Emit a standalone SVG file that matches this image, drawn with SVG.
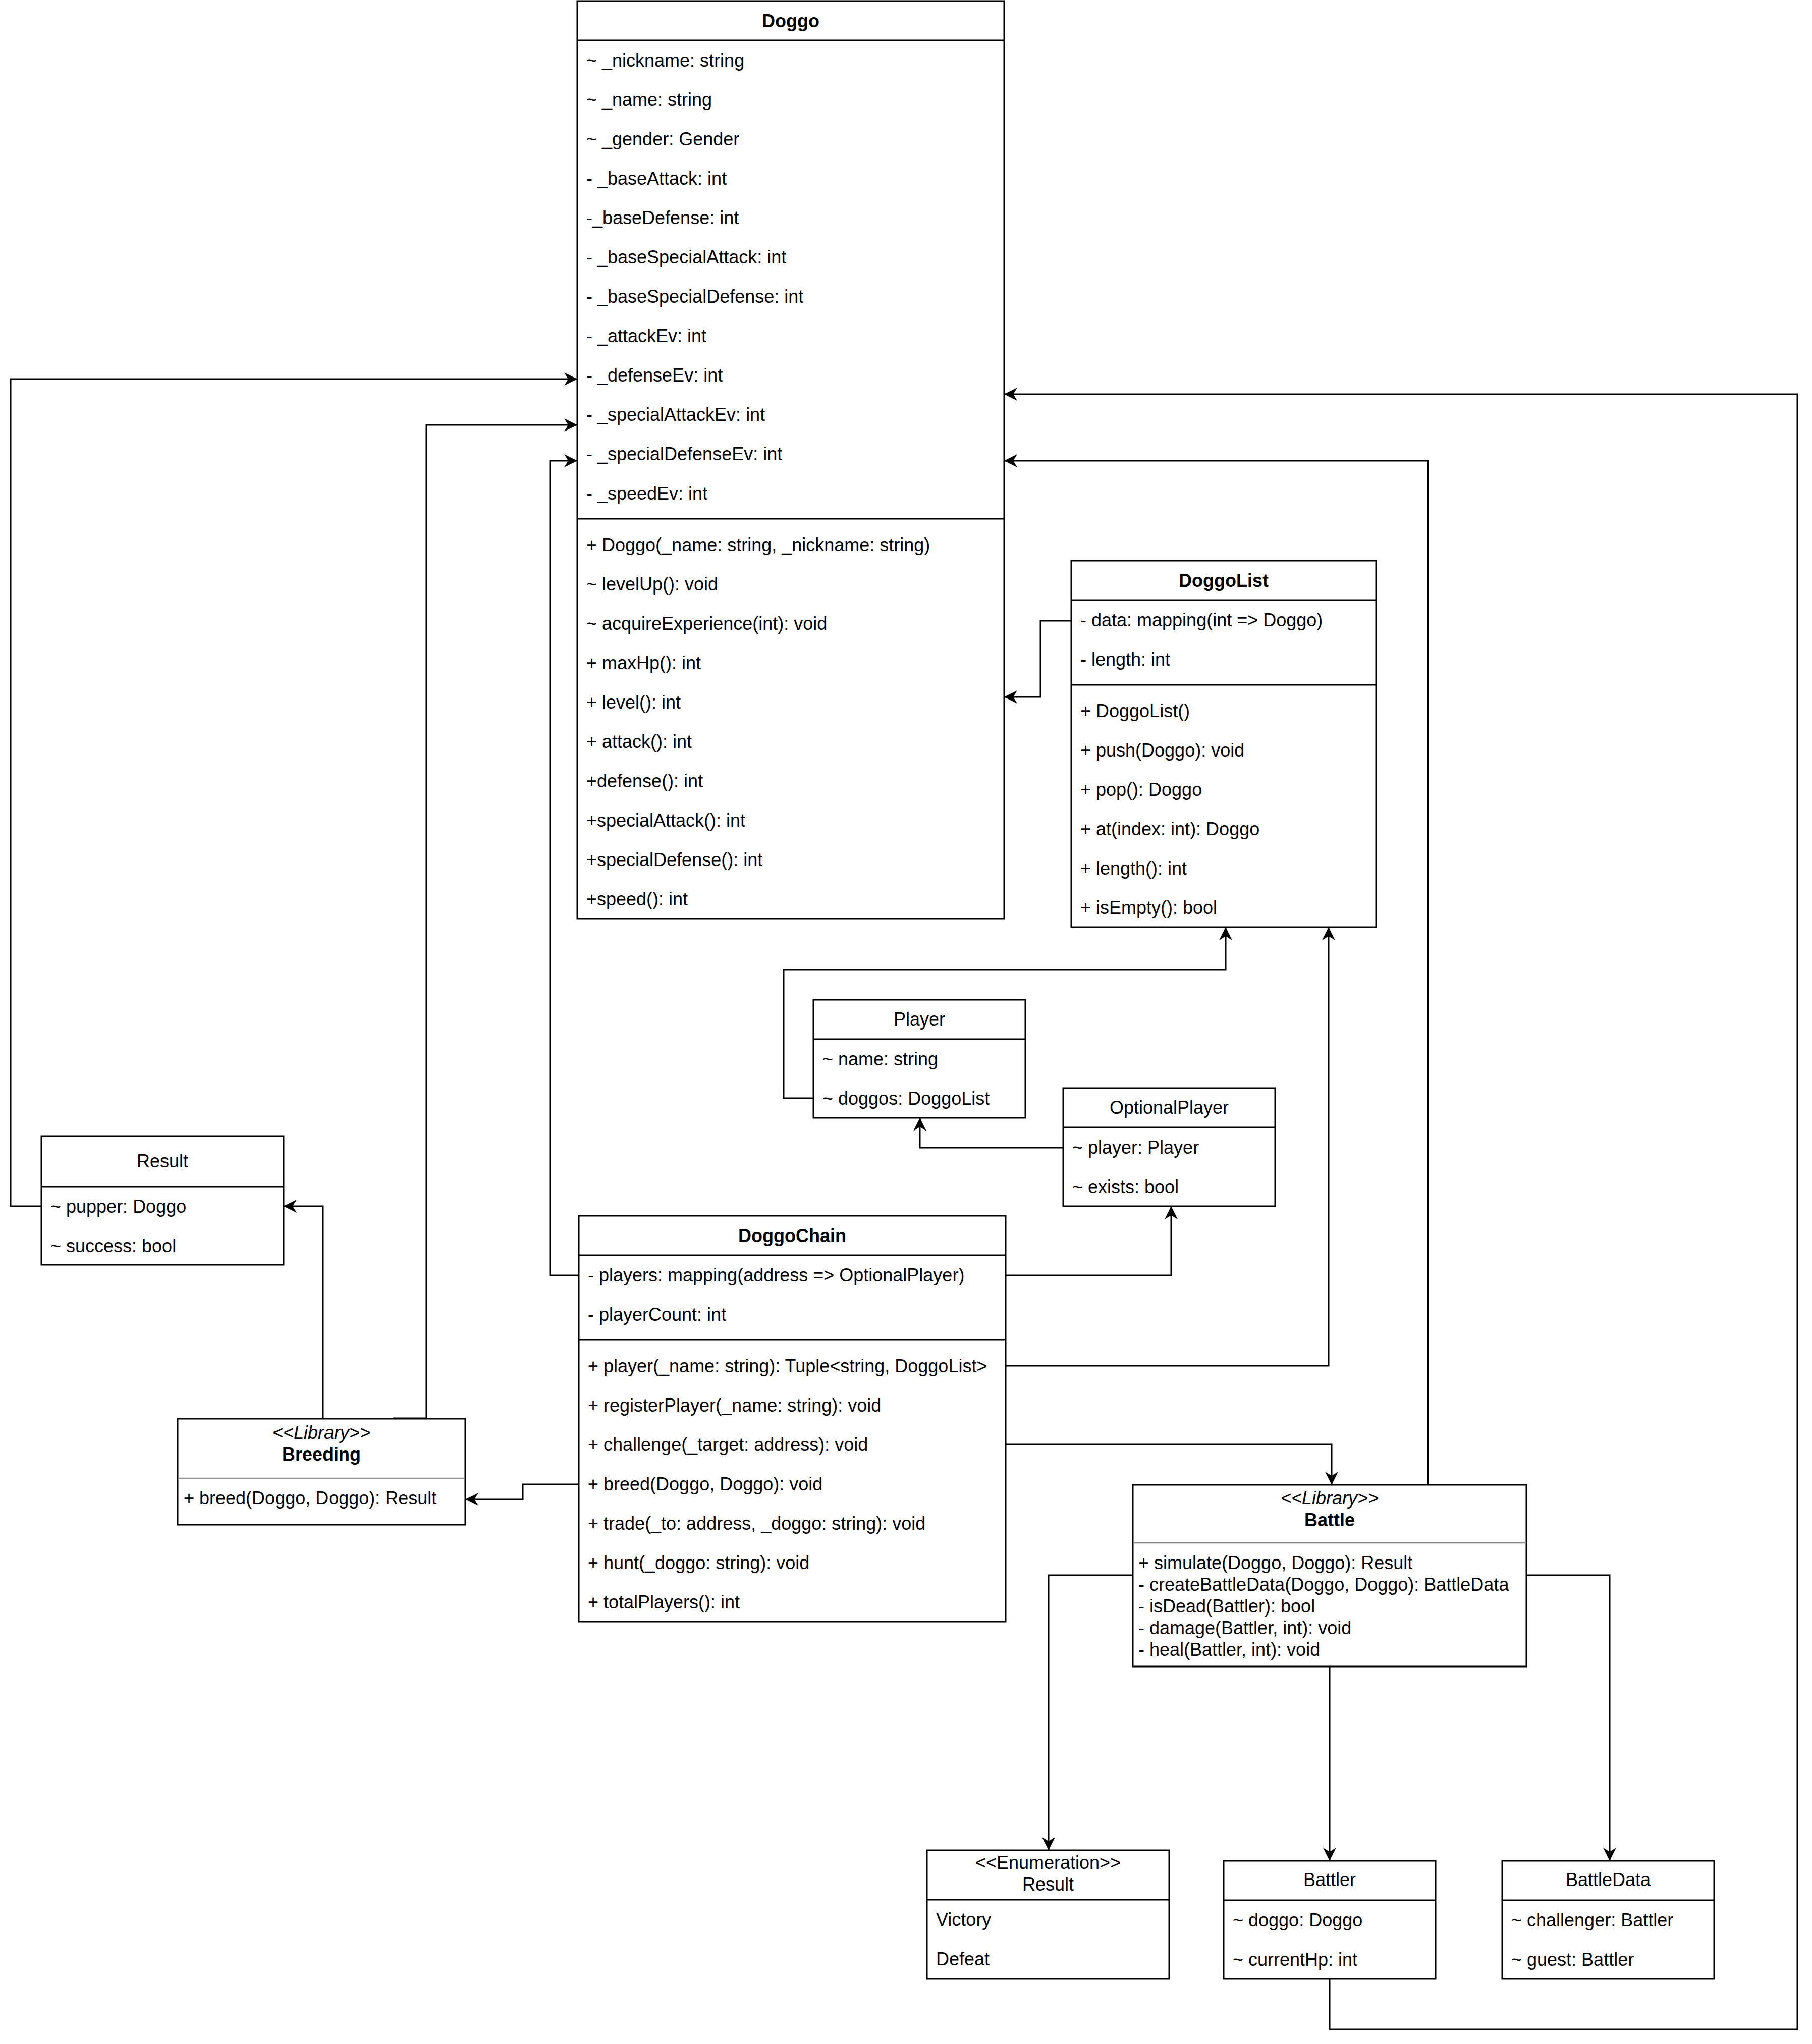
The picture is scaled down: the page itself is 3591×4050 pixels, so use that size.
<svg xmlns="http://www.w3.org/2000/svg" width="3591" height="4050" viewBox="0 0 3591 4050">
<defs>
<style>
text{font-family:"Liberation Sans",Arial,Helvetica,sans-serif;font-size:36px;fill:#000;white-space:pre}
.b{font-weight:bold}
.i{font-style:italic}
.c{text-anchor:middle}
.box{fill:#fff;stroke:#000;stroke-width:3}
.ln{stroke:#000;stroke-width:3}
.hr{stroke:#8c8c8c;stroke-width:2.5}
.conn{fill:none;stroke:#000;stroke-width:3;marker-end:url(#arr)}
.plain{fill:none;stroke:#000;stroke-width:3}
</style>
<marker id="arr" viewBox="0 0 26 26" refX="26" refY="13" markerWidth="26" markerHeight="26" markerUnits="userSpaceOnUse" orient="auto">
<path d="M0,0 L26,13 L0,26 L8,13 Z" fill="#000"/>
</marker>
</defs>
<rect x="0" y="0" width="3591" height="4050" fill="#fff"/>

<g id="connectors">
<path class="conn" d="M2123,1230 H2062 V1381 H1990"/>
<path class="conn" d="M1612,2176 H1553 V1921 H2429 V1837"/>
<path class="conn" d="M2107,2274 H1823 V2215"/>
<path class="conn" d="M1993,2527 H2321 V2390"/>
<path class="conn" d="M1993,2706 H2633 V1837"/>
<path class="conn" d="M1993,2862 H2639 V2942"/>
<path class="conn" d="M1147,2527 H1090 V913 H1144"/>
<path class="conn" d="M1147,2941 H1036 V2971 H922"/>
<path class="conn" d="M640,2811 V2390 H562"/>
<path class="conn" d="M779,2810 H845 V842 H1144"/>
<path class="conn" d="M82,2390 H21 V751 H1144"/>
<path class="conn" d="M2830,2942 V913 H1990"/>
<path class="conn" d="M2245,3121 H2078 V3666"/>
<path class="conn" d="M3025,3121 H3190 V3687"/>
<path class="conn" d="M2635,3302 V3687"/>
<path class="conn" d="M2635,3921 V4021 H3562 V781 H1990"/>
</g>

<g id="Doggo">
<rect class="box" x="1144" y="2" width="846" height="1818"/>
<line class="ln" x1="1144" y1="80" x2="1990" y2="80"/>
<line class="ln" x1="1144" y1="1028" x2="1990" y2="1028"/>
<text class="b c" x="1567" y="54">Doggo</text>
<text x="1162" y="132">~ _nickname: string</text>
<text x="1162" y="210">~ _name: string</text>
<text x="1162" y="288">~ _gender: Gender</text>
<text x="1162" y="366">- _baseAttack: int</text>
<text x="1162" y="444">-_baseDefense: int</text>
<text x="1162" y="522">- _baseSpecialAttack: int</text>
<text x="1162" y="600">- _baseSpecialDefense: int</text>
<text x="1162" y="678">- _attackEv: int</text>
<text x="1162" y="756">- _defenseEv: int</text>
<text x="1162" y="834">- _specialAttackEv: int</text>
<text x="1162" y="912">- _specialDefenseEv: int</text>
<text x="1162" y="990">- _speedEv: int</text>
<text x="1162" y="1092">+ Doggo(_name: string, _nickname: string)</text>
<text x="1162" y="1170">~ levelUp(): void</text>
<text x="1162" y="1248">~ acquireExperience(int): void</text>
<text x="1162" y="1326">+ maxHp(): int</text>
<text x="1162" y="1404">+ level(): int</text>
<text x="1162" y="1482">+ attack(): int</text>
<text x="1162" y="1560">+defense(): int</text>
<text x="1162" y="1638">+specialAttack(): int</text>
<text x="1162" y="1716">+specialDefense(): int</text>
<text x="1162" y="1794">+speed(): int</text>
</g>

<g id="DoggoList">
<rect class="box" x="2123" y="1111" width="604" height="726"/>
<line class="ln" x1="2123" y1="1189" x2="2727" y2="1189"/>
<line class="ln" x1="2123" y1="1357" x2="2727" y2="1357"/>
<text class="b c" x="2425" y="1163">DoggoList</text>
<text x="2141" y="1241">- data: mapping(int =&gt; Doggo)</text>
<text x="2141" y="1319">- length: int</text>
<text x="2141" y="1421">+ DoggoList()</text>
<text x="2141" y="1499">+ push(Doggo): void</text>
<text x="2141" y="1577">+ pop(): Doggo</text>
<text x="2141" y="1655">+ at(index: int): Doggo</text>
<text x="2141" y="1733">+ length(): int</text>
<text x="2141" y="1811">+ isEmpty(): bool</text>
</g>

<g id="Player">
<rect class="box" x="1612" y="1981" width="420" height="234"/>
<line class="ln" x1="1612" y1="2059" x2="2032" y2="2059"/>
<text class="c" x="1822" y="2032">Player</text>
<text x="1630" y="2111">~ name: string</text>
<text x="1630" y="2189">~ doggos: DoggoList</text>
</g>

<g id="OptionalPlayer">
<rect class="box" x="2107" y="2156" width="420" height="234"/>
<line class="ln" x1="2107" y1="2234" x2="2527" y2="2234"/>
<text class="c" x="2317" y="2207">OptionalPlayer</text>
<text x="2125" y="2286">~ player: Player</text>
<text x="2125" y="2364">~ exists: bool</text>
</g>

<g id="DoggoChain">
<rect class="box" x="1147" y="2409" width="846" height="804"/>
<line class="ln" x1="1147" y1="2487" x2="1993" y2="2487"/>
<line class="ln" x1="1147" y1="2655" x2="1993" y2="2655"/>
<text class="b c" x="1570" y="2461">DoggoChain</text>
<text x="1165" y="2539">- players: mapping(address =&gt; OptionalPlayer)</text>
<text x="1165" y="2617">- playerCount: int</text>
<text x="1165" y="2719">+ player(_name: string): Tuple&lt;string, DoggoList&gt;</text>
<text x="1165" y="2797">+ registerPlayer(_name: string): void</text>
<text x="1165" y="2875">+ challenge(_target: address): void</text>
<text x="1165" y="2953">+ breed(Doggo, Doggo): void</text>
<text x="1165" y="3031">+ trade(_to: address, _doggo: string): void</text>
<text x="1165" y="3109">+ hunt(_doggo: string): void</text>
<text x="1165" y="3187">+ totalPlayers(): int</text>
</g>

<g id="ResultStruct">
<rect class="box" x="82" y="2251" width="480" height="255"/>
<line class="ln" x1="82" y1="2351" x2="562" y2="2351"/>
<text class="c" x="322" y="2313">Result</text>
<text x="100" y="2403">~ pupper: Doggo</text>
<text x="100" y="2481">~ success: bool</text>
</g>

<g id="Breeding">
<rect class="box" x="352" y="2811" width="570" height="210"/>
<line class="hr" x1="353" y1="2929" x2="920" y2="2929"/>
<text class="i c" x="637" y="2851">&lt;&lt;Library&gt;&gt;</text>
<text class="b c" x="637" y="2894">Breeding</text>
<text x="364" y="2981">+ breed(Doggo, Doggo): Result</text>
</g>

<g id="Battle">
<rect class="box" x="2245" y="2942" width="780" height="360"/>
<line class="hr" x1="2247" y1="3057" x2="3022" y2="3057"/>
<text class="i c" x="2635" y="2981">&lt;&lt;Library&gt;&gt;</text>
<text class="b c" x="2635" y="3024">Battle</text>
<text x="2256" y="3109">+ simulate(Doggo, Doggo): Result</text>
<text x="2256" y="3152">- createBattleData(Doggo, Doggo): BattleData</text>
<text x="2256" y="3195">- isDead(Battler): bool</text>
<text x="2256" y="3238">- damage(Battler, int): void</text>
<text x="2256" y="3281">- heal(Battler, int): void</text>
</g>

<g id="ResultEnum">
<rect class="box" x="1837" y="3666" width="480" height="255"/>
<line class="ln" x1="1837" y1="3764" x2="2317" y2="3764"/>
<text class="c" x="2077" y="3703">&lt;&lt;Enumeration&gt;&gt;</text>
<text class="c" x="2077" y="3746">Result</text>
<text x="1855" y="3816">Victory</text>
<text x="1855" y="3894">Defeat</text>
</g>

<g id="Battler">
<rect class="box" x="2425" y="3687" width="420" height="234"/>
<line class="ln" x1="2425" y1="3765" x2="2845" y2="3765"/>
<text class="c" x="2635" y="3737">Battler</text>
<text x="2443" y="3817">~ doggo: Doggo</text>
<text x="2443" y="3895">~ currentHp: int</text>
</g>

<g id="BattleData">
<rect class="box" x="2977" y="3687" width="420" height="234"/>
<line class="ln" x1="2977" y1="3765" x2="3397" y2="3765"/>
<text class="c" x="3187" y="3737">BattleData</text>
<text x="2995" y="3817">~ challenger: Battler</text>
<text x="2995" y="3895">~ guest: Battler</text>
</g>
</svg>
